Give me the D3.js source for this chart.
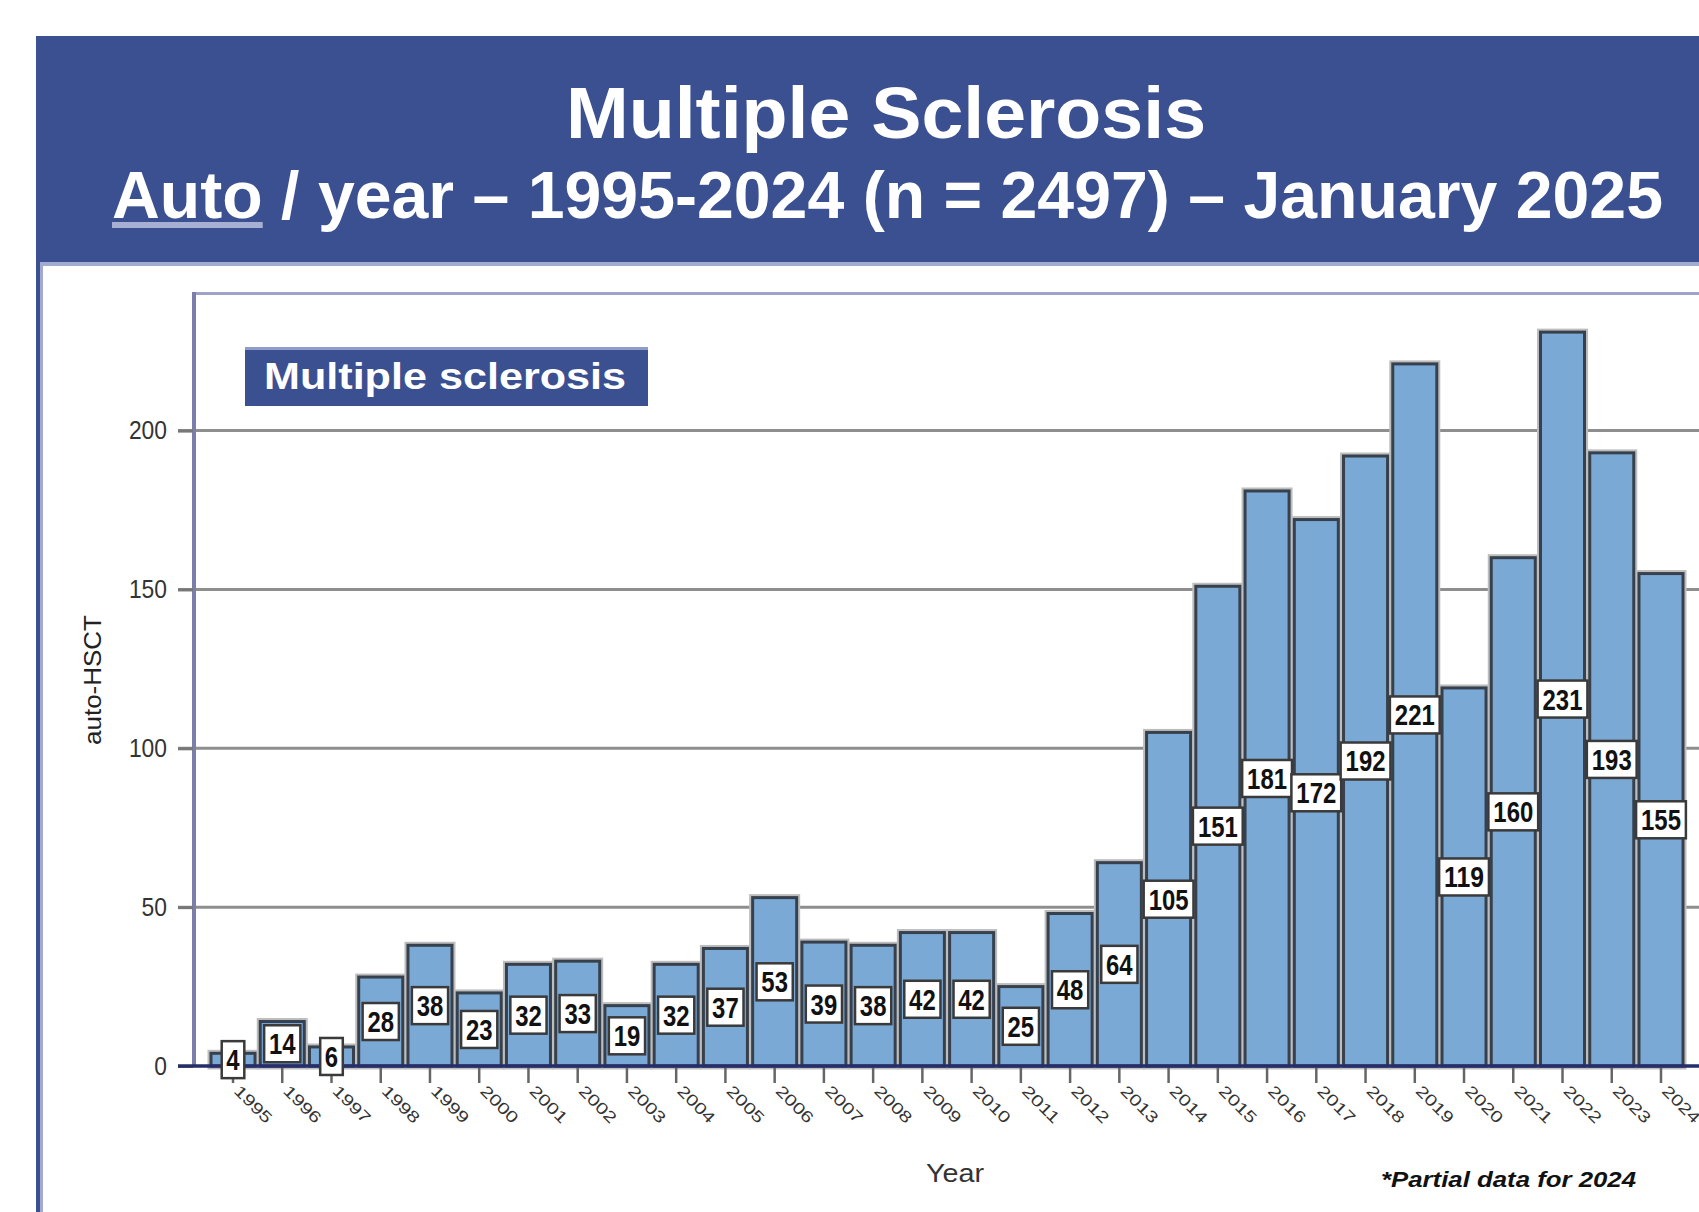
<!DOCTYPE html>
<html><head><meta charset="utf-8">
<script src="https://cdn.jsdelivr.net/npm/d3@7"></script>
<style>html,body{margin:0;padding:0;background:#fff;overflow:hidden}</style>
</head><body>
<svg id="chart" width="1699" height="1212"></svg>
<script>
const years = ["1995","1996","1997","1998","1999","2000","2001","2002","2003","2004","2005","2006","2007","2008","2009","2010","2011","2012","2013","2014","2015","2016","2017","2018","2019","2020","2021","2022","2023","2024"];
const counts = [4,14,6,28,38,23,32,33,19,32,37,53,39,38,42,42,25,48,64,105,151,181,172,192,221,119,160,231,193,155];
const yTicks = [0,50,100,150,200];
const titleLine1 = "Multiple Sclerosis";
const titleUnderlined = "Auto";
const titleRest = " / year – 1995-2024 (n = 2497) – January 2025";
const legendLabel = "Multiple sclerosis";
const yAxisTitle = "auto-HSCT";
const xAxisTitle = "Year";
const footnote = "*Partial data for 2024";

const W = 1699, H = 1212;
const FONT = "'Liberation Sans', Arial, Helvetica, sans-serif";
const svg = d3.select("#chart").style("font-family", FONT);

svg.append("rect").attr("width", W).attr("height", H).attr("fill", "#fff");

// header band
const BLUE = "#3b5091";
svg.append("rect").attr("x", 36).attr("y", 36).attr("width", W - 36).attr("height", 226).attr("fill", BLUE);
svg.append("rect").attr("x", 36).attr("y", 262).attr("width", 4).attr("height", H - 262).attr("fill", BLUE);
svg.append("rect").attr("x", 40).attr("y", 262).attr("width", 3).attr("height", H - 262).attr("fill", "#a3aad0");
svg.append("rect").attr("x", 40).attr("y", 262).attr("width", W - 40).attr("height", 4).attr("fill", "#a3aad0");

// titles
svg.append("text").attr("x", 886).attr("y", 138).attr("text-anchor", "middle")
  .attr("font-size", 72).attr("font-weight", "bold").attr("fill", "#fff")
  .attr("textLength", 640).attr("lengthAdjust", "spacingAndGlyphs").text(titleLine1);

const line2Len = 1551, line2X = 112, line2Y = 218;
// measure natural proportions for underline
const meas = svg.append("text").attr("font-size", 66).attr("font-weight", "bold").attr("visibility", "hidden");
meas.text(titleUnderlined);
const autoLen = meas.node().getComputedTextLength();
meas.text(titleUnderlined + titleRest);
const fullLen = meas.node().getComputedTextLength();
meas.remove();

const t2 = svg.append("text").attr("x", line2X).attr("y", line2Y)
  .attr("font-size", 66).attr("font-weight", "bold").attr("fill", "#fff")
  .attr("textLength", line2Len).attr("lengthAdjust", "spacingAndGlyphs");
t2.append("tspan").text(titleUnderlined);
t2.append("tspan").text(titleRest);
svg.append("rect").attr("x", line2X).attr("y", line2Y + 4)
  .attr("width", line2Len * autoLen / fullLen).attr("height", 6).attr("fill", "#a7afd3");

// scales
const x = d3.scaleBand().domain(years).range([211, 1683]).paddingInner(0.106).paddingOuter(0);
const y = d3.scaleLinear().domain([0, 243]).range([1066, 294]);

// gridlines
svg.append("g").selectAll("line").data(yTicks.filter(d => d > 0)).join("line")
  .attr("x1", 178).attr("x2", W).attr("y1", d => y(d)).attr("y2", d => y(d))
  .attr("stroke", "#8e8e8e").attr("stroke-width", 3);

// plot frame
svg.append("line").attr("x1", 192).attr("x2", W).attr("y1", 293.5).attr("y2", 293.5)
  .attr("stroke", "#9ea1c8").attr("stroke-width", 3);
svg.append("line").attr("x1", 194).attr("x2", 194).attr("y1", 292).attr("y2", y(0))
  .attr("stroke", "#7b7eab").attr("stroke-width", 4);

// y axis
const yAxis = svg.append("g").attr("transform", "translate(193,0)")
  .call(d3.axisLeft(y).tickValues(yTicks).tickSize(15).tickPadding(11));
yAxis.select(".domain").remove();
yAxis.selectAll(".tick line").attr("stroke", "#777").attr("stroke-width", 3);
yAxis.selectAll(".tick text").attr("font-size", 26).attr("fill", "#333")
  .style("font-family", FONT)
  .attr("textLength", d => String(d).length * 12.7).attr("lengthAdjust", "spacingAndGlyphs");

// legend
svg.append("rect").attr("x", 245).attr("y", 347).attr("width", 403).attr("height", 59).attr("fill", BLUE);
svg.append("rect").attr("x", 245).attr("y", 347).attr("width", 403).attr("height", 3).attr("fill", "#8f9bc9");
svg.append("text").attr("x", 264).attr("y", 389).attr("font-size", 36).attr("font-weight", "bold")
  .attr("fill", "#fff").attr("textLength", 362).attr("lengthAdjust", "spacingAndGlyphs").text(legendLabel);

// bars
const data = years.map((yr, i) => ({ year: yr, value: counts[i] }));
const bars = svg.append("g");
bars.selectAll("rect.halo").data(data).join("rect").attr("class", "halo")
  .attr("x", d => x(d.year)).attr("y", d => y(d.value))
  .attr("width", x.bandwidth()).attr("height", d => y(0) - y(d.value))
  .attr("fill", "none").attr("stroke", "#bdbdbd").attr("stroke-width", 7);
bars.selectAll("rect.bar").data(data).join("rect").attr("class", "bar")
  .attr("x", d => x(d.year)).attr("y", d => y(d.value))
  .attr("width", x.bandwidth()).attr("height", d => y(0) - y(d.value))
  .attr("fill", "#7aa9d6").attr("stroke", "#37414d").attr("stroke-width", 3);

// x axis
const xAxis = svg.append("g").attr("transform", `translate(0,${y(0)})`)
  .call(d3.axisBottom(x).tickSize(17).tickSizeOuter(0));
xAxis.select(".domain").remove();
xAxis.selectAll(".tick line").attr("stroke", "#666").attr("stroke-width", 2.5);
xAxis.selectAll(".tick text")
  .attr("x", 0).attr("y", 0).attr("dy", "0.35em")
  .attr("transform", "translate(4,22) rotate(45)")
  .attr("text-anchor", "start").attr("font-size", 16).attr("fill", "#333")
  .style("font-family", FONT)
  .attr("textLength", d => d.length * 11.5).attr("lengthAdjust", "spacingAndGlyphs");

// zero line
svg.append("line").attr("x1", 178).attr("x2", W).attr("y1", y(0)).attr("y2", y(0))
  .attr("stroke", "#262d6b").attr("stroke-width", 3.5);

// value labels
const lab = svg.append("g").selectAll("g").data(data).join("g")
  .attr("transform", d => `translate(${x(d.year) + x.bandwidth() / 2},${y(d.value / 2)})`);
lab.append("rect")
  .attr("x", d => -(9 + 13.6 * String(d.value).length) / 2).attr("y", -18.5)
  .attr("width", d => 9 + 13.6 * String(d.value).length).attr("height", 37)
  .attr("fill", "#fff").attr("stroke", "#3a3a3a").attr("stroke-width", 2.5);
lab.append("text").attr("text-anchor", "middle").attr("dy", "0.36em")
  .attr("font-size", 29).attr("font-weight", "bold").attr("fill", "#111")
  .attr("textLength", d => 13.3 * String(d.value).length).attr("lengthAdjust", "spacingAndGlyphs")
  .text(d => d.value);

// axis titles
svg.append("text").attr("transform", "translate(101,680) rotate(-90)").attr("text-anchor", "middle")
  .attr("font-size", 23).attr("fill", "#222").attr("textLength", 130).attr("lengthAdjust", "spacingAndGlyphs")
  .text(yAxisTitle);
svg.append("text").attr("x", 955).attr("y", 1182).attr("text-anchor", "middle")
  .attr("font-size", 25).attr("fill", "#333").attr("textLength", 58).attr("lengthAdjust", "spacingAndGlyphs")
  .text(xAxisTitle);
svg.append("text").attr("x", 1381).attr("y", 1187)
  .attr("font-size", 22).attr("font-weight", "bold").attr("font-style", "italic").attr("fill", "#111")
  .attr("textLength", 255).attr("lengthAdjust", "spacingAndGlyphs").text(footnote);
</script>
</body></html>
